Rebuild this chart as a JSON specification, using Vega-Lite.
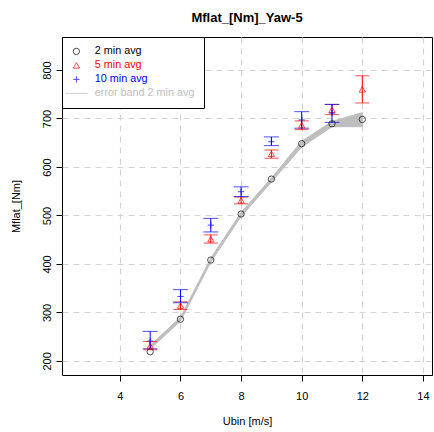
{
  "$schema": "https://vega.github.io/schema/vega-lite/v6.json",
  "width": 370,
  "height": 338,
  "autosize": {"type": "none"},
  "padding": {"left": 62, "top": 37, "right": 2, "bottom": 57},
  "background": "white",
  "title": {"text": "Mflat_[Nm]_Yaw-5", "font": "Liberation Sans", "fontSize": 13, "fontWeight": "bold", "color": "black", "offset": 12, "anchor": "middle"},
  "config": {
    "view": {"stroke": "black", "strokeWidth": 1},
    "axis": {
      "labelFont": "Liberation Sans", "labelFontSize": 11, "labelColor": "black",
      "titleFont": "Liberation Sans", "titleFontSize": 11, "titleFontWeight": "normal", "titleColor": "black",
      "domain": false, "tickColor": "black", "tickSize": 6,
      "grid": true, "gridColor": "#d3d3d3", "gridDash": [6, 5], "gridWidth": 1.2
    }
  },
  "data": {"values": [
    {"series": "2 min avg", "u": 5, "m": 219},
    {"series": "2 min avg", "u": 6, "m": 286},
    {"series": "2 min avg", "u": 7, "m": 408},
    {"series": "2 min avg", "u": 8, "m": 503},
    {"series": "2 min avg", "u": 9, "m": 575},
    {"series": "2 min avg", "u": 10, "m": 648},
    {"series": "2 min avg", "u": 11, "m": 689},
    {"series": "2 min avg", "u": 12, "m": 698},
    {"series": "5 min avg", "u": 5, "m": 231, "lo": 223, "hi": 240},
    {"series": "5 min avg", "u": 6, "m": 314, "lo": 306, "hi": 322},
    {"series": "5 min avg", "u": 7, "m": 451, "lo": 443, "hi": 460},
    {"series": "5 min avg", "u": 8, "m": 531, "lo": 524, "hi": 538},
    {"series": "5 min avg", "u": 9, "m": 627, "lo": 618, "hi": 635},
    {"series": "5 min avg", "u": 10, "m": 686, "lo": 677, "hi": 695},
    {"series": "5 min avg", "u": 11, "m": 718, "lo": 708, "hi": 729},
    {"series": "5 min avg", "u": 12, "m": 760, "lo": 732, "hi": 788},
    {"series": "10 min avg", "u": 5, "m": 241, "lo": 225, "hi": 261},
    {"series": "10 min avg", "u": 6, "m": 333, "lo": 320, "hi": 347},
    {"series": "10 min avg", "u": 7, "m": 480, "lo": 466, "hi": 494},
    {"series": "10 min avg", "u": 8, "m": 549, "lo": 539, "hi": 559},
    {"series": "10 min avg", "u": 9, "m": 652, "lo": 644, "hi": 662},
    {"series": "10 min avg", "u": 10, "m": 697, "lo": 680, "hi": 714},
    {"series": "10 min avg", "u": 11, "m": 711, "lo": 692, "hi": 729},
    {"series": "error band 2 min avg", "u": 5, "lo": 225, "hi": 232},
    {"series": "error band 2 min avg", "u": 6, "lo": 282, "hi": 290},
    {"series": "error band 2 min avg", "u": 7, "lo": 404, "hi": 412},
    {"series": "error band 2 min avg", "u": 8, "lo": 498, "hi": 506},
    {"series": "error band 2 min avg", "u": 9, "lo": 569, "hi": 577},
    {"series": "error band 2 min avg", "u": 10, "lo": 641, "hi": 653},
    {"series": "error band 2 min avg", "u": 11, "lo": 683, "hi": 694},
    {"series": "error band 2 min avg", "u": 12, "lo": 683, "hi": 712}
  ]},
  "encoding": {
    "x": {"field": "u", "type": "quantitative",
      "scale": {"domain": [2.09, 14.3], "nice": false, "zero": false},
      "axis": {"values": [4, 6, 8, 10, 12, 14], "title": "Ubin [m/s]", "labelPadding": 9, "titlePadding": 14}}
  },
  "layer": [
    {
      "transform": [{"filter": "datum.series === 'error band 2 min avg'"}],
      "mark": {"type": "area", "color": "#bebebe", "stroke": "#bebebe", "strokeWidth": 1},
      "encoding": {
        "y": {"field": "lo", "type": "quantitative", "title": "Mflat_[Nm]",
          "scale": {"domain": [171, 868], "nice": false, "zero": false},
          "axis": {"values": [200, 300, 400, 500, 600, 700, 800], "title": "Mflat_[Nm]", "labelAngle": -90, "labelAlign": "center", "labelBaseline": "bottom", "labelPadding": 4, "titlePadding": 20}},
        "y2": {"field": "hi"}
      }
    },
    {
      "transform": [{"filter": "datum.series === '5 min avg'"}],
      "mark": {"type": "errorbar", "color": "red", "ticks": {"size": 14, "color": "red"}, "rule": {"color": "red"}},
      "encoding": {
        "y": {"field": "lo", "type": "quantitative", "title": "Mflat_[Nm]"},
        "y2": {"field": "hi"}
      }
    },
    {
      "transform": [{"filter": "datum.series === '10 min avg'"}],
      "mark": {"type": "errorbar", "color": "blue", "ticks": {"size": 15, "color": "blue"}, "rule": {"color": "blue"}},
      "encoding": {
        "y": {"field": "lo", "type": "quantitative", "title": "Mflat_[Nm]"},
        "y2": {"field": "hi"}
      }
    },
    {
      "transform": [{"filter": "datum.m != null"}],
      "mark": {"type": "point", "filled": false, "strokeWidth": 1, "size": 40},
      "encoding": {
        "y": {"field": "m", "type": "quantitative", "title": "Mflat_[Nm]"},
        "color": {"field": "series", "type": "nominal",
          "scale": {"domain": ["2 min avg", "5 min avg", "10 min avg", "error band 2 min avg"], "range": ["black", "red", "blue", "#bebebe"]},
          "legend": {
            "title": null, "orient": "top-left", "offset": 0,
            "strokeColor": "black", "fillColor": "white", "padding": 9,
            "labelFont": "Liberation Sans", "labelFontSize": 10.8, "labelOffset": 13,
            "labelColor": {"expr": "datum.label === '2 min avg' ? 'black' : datum.label === '5 min avg' ? 'red' : datum.label === '10 min avg' ? 'blue' : '#bebebe'"},
            "symbolSize": 40, "symbolStrokeWidth": 1, "symbolOffset": 0, "rowPadding": 2,
            "encode": {
              "symbols": {"update": {"fill": {"value": "transparent"}}}
            }
          }},
        "shape": {"field": "series", "type": "nominal",
          "scale": {"domain": ["2 min avg", "5 min avg", "10 min avg", "error band 2 min avg"], "range": ["circle", "triangle-up", "M-1,0L1,0M0,-1L0,1", "M-3.5,0L3.5,0"]},
          "legend": {"title": null}}
      }
    }
  ]
}
